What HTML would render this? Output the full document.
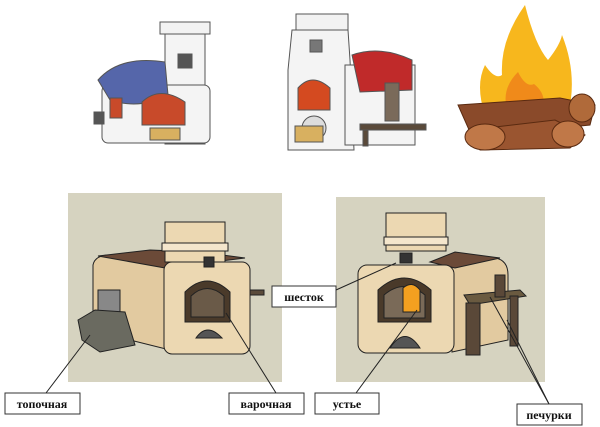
<!DOCTYPE html>
<html><head><meta charset="utf-8"><style>
html,body{margin:0;padding:0;background:#fff;width:600px;height:427px;overflow:hidden}
svg{display:block}
text{font-family:"Liberation Serif",serif;font-weight:bold;font-size:12px}
</style></head><body>
<svg width="600" height="427" viewBox="0 0 600 427" xmlns="http://www.w3.org/2000/svg">
<!-- top stove 1 -->
<g stroke="#555" stroke-width="1">
<rect x="160" y="22" width="50" height="12" fill="#f2f2f2"/>
<rect x="165" y="34" width="40" height="110" fill="#f4f4f4"/>
<rect x="102" y="85" width="108" height="58" rx="6" fill="#f4f4f4"/>
<path d="M98,80 Q120,55 165,62 L168,95 Q140,110 110,100 Z" fill="#5566aa"/>
<path d="M142,125 L142,102 Q160,85 185,102 L185,125 Z" fill="#c84a2a"/>
<rect x="110" y="98" width="12" height="20" fill="#c84a2a"/>
<rect x="94" y="112" width="10" height="12" fill="#555"/>
<rect x="178" y="54" width="14" height="14" fill="#555"/>
<rect x="150" y="128" width="30" height="12" fill="#d8b060"/>
</g>
<!-- top stove 2 -->
<g stroke="#555" stroke-width="1">
<rect x="296" y="14" width="52" height="16" fill="#f2f2f2"/>
<path d="M292,30 L348,30 L350,60 L354,150 L288,150 L288,70 Z" fill="#f4f4f4"/>
<rect x="345" y="65" width="70" height="80" fill="#f4f4f4"/>
<path d="M352,55 Q380,45 412,60 L412,90 L360,92 Z" fill="#c02a2a"/>
<path d="M298,110 L298,88 Q312,72 330,88 L330,110 Z" fill="#d44a20"/>
<circle cx="314" cy="128" r="12" fill="#ddd"/>
<rect x="295" y="126" width="28" height="16" fill="#d8b060"/>
<rect x="385" y="83" width="14" height="38" fill="#7a6a5a"/>
<rect x="360" y="124" width="66" height="6" fill="#5a4a3a"/>
<rect x="363" y="130" width="5" height="16" fill="#5a4a3a"/>
<rect x="310" y="40" width="12" height="12" fill="#777"/>
</g>
<!-- fire -->
<path d="M525,5 Q535,45 548,60 Q560,45 562,35 Q578,75 568,115 L485,115 Q475,85 485,65 Q495,80 502,75 Q500,40 525,5 Z" fill="#f7b71d"/>
<path d="M508,112 Q500,90 518,72 Q526,88 534,84 Q548,95 542,112 Z" fill="#f08a1a"/>
<g stroke="#5a2a10" stroke-width="1">
<path d="M458,105 L560,98 L595,105 L590,125 L540,130 L470,132 Z" fill="#8a4a2a"/>
<path d="M470,130 L555,120 L585,135 L570,148 L480,150 Z" fill="#9a5530"/>
<ellipse cx="485" cy="137" rx="20" ry="13" fill="#c07848"/>
<ellipse cx="568" cy="134" rx="16" ry="13" fill="#c07848"/>
<ellipse cx="582" cy="108" rx="13" ry="14" fill="#b06a3a"/>
</g>
<!-- panels -->
<rect x="68" y="193" width="214" height="189" fill="#d6d3c0"/>
<rect x="336" y="197" width="209" height="185" fill="#d6d3c0"/>
<!-- left brick stove -->
<g stroke="#222" stroke-width="1">
<path d="M93,265 Q95,255 110,255 L170,255 L170,350 L130,340 L93,330 Z" fill="#e2caa0"/>
<path d="M98,256 L150,250 L200,252 L245,258 L165,268 Z" fill="#6b4a38"/>
<rect x="164" y="262" width="86" height="92" rx="8" fill="#ecd8b2"/>
<rect x="165" y="222" width="60" height="40" fill="#ecd8b2"/>
<rect x="162" y="243" width="66" height="8" fill="#f4e6cc"/>
<path d="M185,322 L185,292 Q207,270 230,292 L230,322 Z" fill="#4a3a2a"/>
<path d="M191,317 L191,296 Q207,281 224,296 L224,317 Z" fill="#6a5a48"/>
<rect x="204" y="257" width="10" height="10" fill="#333"/>
<rect x="98" y="290" width="22" height="22" fill="#888"/>
<path d="M78,320 L95,310 L125,312 L135,345 L100,352 L82,340 Z" fill="#6a6a60"/>
<path d="M196,338 Q207,322 222,338 Z" fill="#555"/>
<rect x="250" y="290" width="14" height="5" fill="#5a4a3a"/>
</g>
<!-- right brick stove -->
<g stroke="#222" stroke-width="1">
<path d="M450,262 L495,258 Q508,260 508,275 L508,340 L452,352 Z" fill="#e2caa0"/>
<path d="M430,262 L455,252 L500,258 L455,268 Z" fill="#6b4a38"/>
<rect x="358" y="265" width="96" height="88" rx="9" fill="#ecd8b2"/>
<rect x="386" y="213" width="60" height="38" fill="#ecd8b2"/>
<rect x="384" y="237" width="64" height="8" fill="#f4e6cc"/>
<path d="M378,322 L378,290 Q404,266 431,290 L431,322 Z" fill="#4a3a2a"/>
<path d="M384,318 L384,295 Q404,278 425,295 L425,318 Z" fill="#7a6a58"/>
<path d="M403,312 L403,288 Q412,280 420,290 L420,312 Z" fill="#f3a020"/>
<path d="M390,348 Q405,325 420,348 Z" fill="#555"/>
<rect x="400" y="253" width="12" height="10" fill="#333"/>
<path d="M464,295 L520,290 L526,296 L470,305 Z" fill="#6a5a40"/>
<rect x="466" y="303" width="14" height="52" fill="#5a4838"/>
<rect x="510" y="296" width="8" height="50" fill="#5a4838"/>
<rect x="495" y="275" width="10" height="22" fill="#5a4838"/>
</g>
<!-- connectors -->
<g stroke="#222" stroke-width="1">
<line x1="46" y1="393" x2="90" y2="335"/>
<line x1="276" y1="393" x2="226" y2="313"/>
<line x1="336" y1="290" x2="396" y2="263"/>
<line x1="356" y1="393" x2="417" y2="310"/>
<line x1="549" y1="404" x2="490" y2="297"/>
<line x1="549" y1="404" x2="507" y2="320"/>
</g>
<!-- labels -->
<g fill="#fff" stroke="#333" stroke-width="1">
<rect x="5" y="393" width="75" height="21"/>
<rect x="229" y="393" width="75" height="21"/>
<rect x="315" y="393" width="64" height="21"/>
<rect x="517" y="404" width="65" height="21"/>
<rect x="272" y="286" width="64" height="21"/>
</g>
<g fill="#111" text-anchor="middle">
<text x="42" y="408">топочная</text>
<text x="266" y="408">варочная</text>
<text x="347" y="408">устье</text>
<text x="549" y="419">печурки</text>
<text x="304" y="301">шесток</text>
</g>
</svg>
</body></html>
